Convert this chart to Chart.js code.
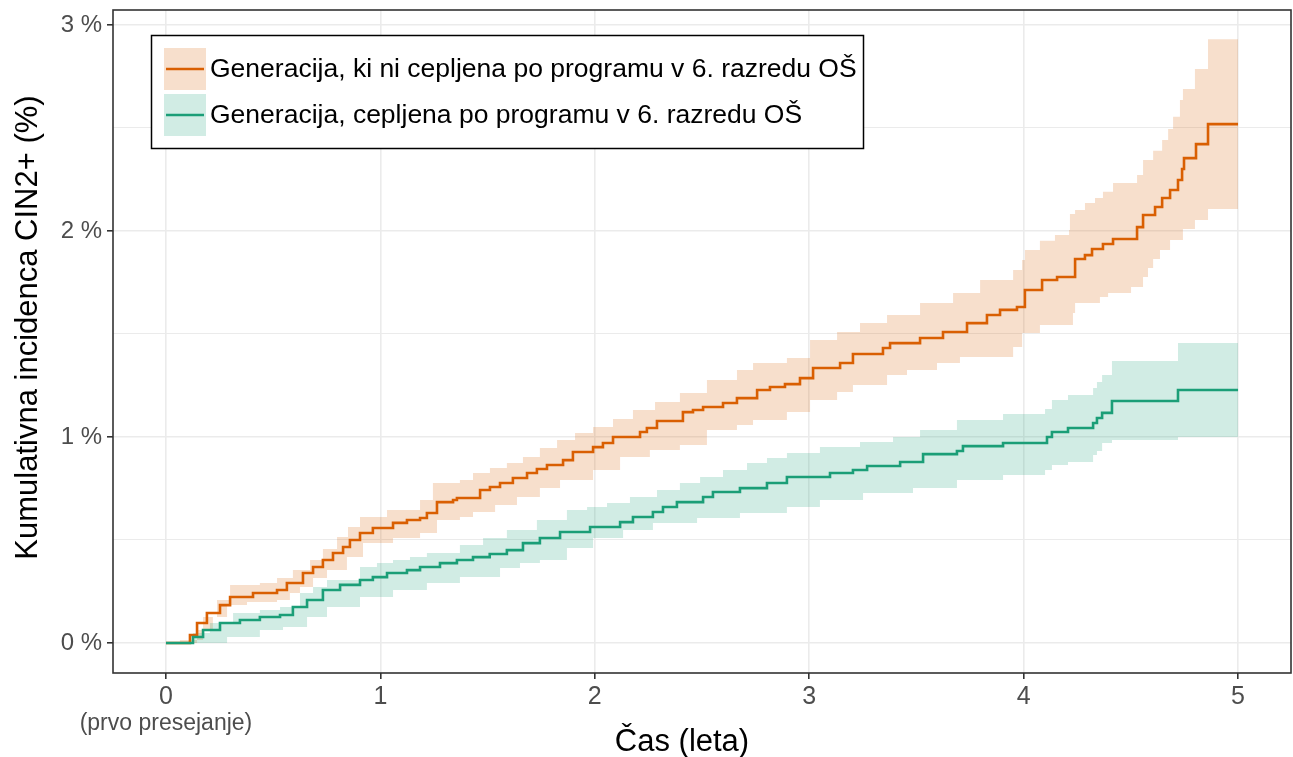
<!DOCTYPE html>
<html>
<head>
<meta charset="utf-8">
<script src="https://cdn.jsdelivr.net/npm/chart.js@4.4.1/dist/chart.umd.min.js"></script>
<style>
  html, body { margin: 0; padding: 0; background: #fff; }
  #wrap { width: 1293px; height: 757px; }
</style>
</head>
<body>
<div id="wrap"><canvas id="c" width="1293" height="757"></canvas></div>
<script>
// [years since first screening, cumulative incidence %]
const seriesNames = [
  "Generacija, ki ni cepljena po programu v 6. razredu OŠ",
  "Generacija, cepljena po programu v 6. razredu OŠ"
];
const yearTicks = [0, 1, 2, 3, 4, 5];
const pctTicks = [0, 0.5, 1, 1.5, 2, 2.5, 3];

const unvacLine = [
  [0, 0], [0.065, 0], [0.112, 0.039], [0.145, 0.097], [0.191, 0.146], [0.252, 0.184],
  [0.299, 0.223], [0.406, 0.243], [0.518, 0.257], [0.564, 0.291], [0.639, 0.340],
  [0.686, 0.369], [0.732, 0.403], [0.779, 0.437], [0.826, 0.466], [0.858, 0.500],
  [0.905, 0.534], [0.965, 0.558], [1.059, 0.583], [1.124, 0.597],
  [1.185, 0.607], [1.217, 0.631], [1.264, 0.684], [1.339, 0.694], [1.357, 0.704],
  [1.465, 0.743], [1.511, 0.757], [1.558, 0.777], [1.618, 0.801], [1.684, 0.825],
  [1.730, 0.845], [1.777, 0.864], [1.852, 0.888],
  [1.898, 0.927], [1.992, 0.951], [2.038, 0.971], [2.085, 1.0], [2.211, 1.024],
  [2.243, 1.044], [2.290, 1.078],
  [2.411, 1.121], [2.458, 1.131], [2.505, 1.146], [2.598, 1.165], [2.663, 1.189], [2.757, 1.228],
  [2.817, 1.243], [2.887, 1.257], [2.957, 1.286], [3.018, 1.335], [3.144, 1.359], [3.204, 1.403],
  [3.344, 1.432], [3.377, 1.456], [3.517, 1.481], [3.624, 1.510], [3.736, 1.553],
  [3.829, 1.592], [3.890, 1.617], [3.969, 1.631], [4.006, 1.714], [4.086, 1.762],
  [4.156, 1.777], [4.240, 1.864], [4.286, 1.883], [4.319, 1.913], [4.370, 1.937],
  [4.417, 1.961], [4.529, 2.019], [4.557, 2.078], [4.613, 2.117], [4.646, 2.160],
  [4.683, 2.199], [4.720, 2.248], [4.739, 2.301], [4.748, 2.354], [4.804, 2.422],
  [4.860, 2.519], [5.0, 2.519]
];
const unvacUpper = [
  [0, 0], [0.065, 0.015], [0.173, 0.126], [0.238, 0.209], [0.299, 0.282], [0.438, 0.291],
  [0.518, 0.316], [0.592, 0.354], [0.672, 0.403], [0.732, 0.456], [0.798, 0.515],
  [0.849, 0.563], [0.905, 0.612], [1.031, 0.646],
  [1.185, 0.694], [1.245, 0.777], [1.371, 0.791], [1.432, 0.825], [1.511, 0.850],
  [1.590, 0.874], [1.665, 0.903], [1.744, 0.947],
  [1.824, 0.985], [1.908, 1.019], [1.992, 1.049], [2.085, 1.087], [2.178, 1.131],
  [2.281, 1.170], [2.397, 1.214], [2.523, 1.277],
  [2.663, 1.325], [2.738, 1.359], [2.896, 1.383], [3.004, 1.471], [3.130, 1.510],
  [3.237, 1.553], [3.363, 1.592], [3.517, 1.650], [3.671, 1.699], [3.797, 1.762],
  [3.951, 1.811], [3.993, 1.859], [4.006, 1.908], [4.076, 1.953], [4.146, 1.981],
  [4.212, 2.005], [4.216, 2.083], [4.240, 2.102], [4.286, 2.136], [4.333, 2.160],
  [4.370, 2.191], [4.417, 2.233], [4.529, 2.272], [4.557, 2.345], [4.604, 2.390],
  [4.646, 2.442], [4.674, 2.495], [4.697, 2.555], [4.729, 2.636], [4.743, 2.689],
  [4.799, 2.786], [4.860, 2.931], [5.0, 2.931]
];
const unvacLower = [
  [0, 0], [0.065, 0], [0.145, 0.063], [0.219, 0.126], [0.285, 0.184], [0.378, 0.199],
  [0.518, 0.209], [0.578, 0.243], [0.625, 0.272], [0.686, 0.316], [0.751, 0.354],
  [0.844, 0.417], [0.919, 0.485],
  [1.059, 0.510], [1.185, 0.534], [1.264, 0.597], [1.371, 0.612], [1.432, 0.636],
  [1.535, 0.670], [1.637, 0.709], [1.744, 0.752], [1.838, 0.791], [1.992, 0.840],
  [2.118, 0.903], [2.257, 0.937], [2.397, 0.961],
  [2.523, 1.034], [2.663, 1.058], [2.738, 1.083], [2.896, 1.121], [3.004, 1.180],
  [3.130, 1.218], [3.204, 1.252], [3.363, 1.301], [3.456, 1.325], [3.596, 1.359],
  [3.703, 1.388], [3.951, 1.437], [3.993, 1.505], [4.076, 1.544], [4.230, 1.602],
  [4.240, 1.650], [4.356, 1.680], [4.394, 1.699], [4.501, 1.728], [4.557, 1.777],
  [4.580, 1.820], [4.604, 1.864], [4.636, 1.908], [4.683, 1.956], [4.743, 2.010],
  [4.799, 2.053], [4.860, 2.107], [5.0, 2.107]
];

const vacLine = [
  [0, 0], [0.065, 0], [0.126, 0.029], [0.173, 0.063], [0.252, 0.097], [0.345, 0.112],
  [0.438, 0.126], [0.532, 0.136], [0.592, 0.175], [0.658, 0.209], [0.732, 0.257],
  [0.812, 0.282], [0.905, 0.306], [0.965, 0.320], [1.031, 0.340], [1.124, 0.354],
  [1.185, 0.369], [1.278, 0.388], [1.357, 0.403], [1.432, 0.417], [1.510, 0.432],
  [1.590, 0.451], [1.665, 0.485], [1.744, 0.510], [1.838, 0.539], [1.978, 0.563],
  [2.118, 0.587], [2.178, 0.612], [2.271, 0.636], [2.318, 0.660], [2.383, 0.684],
  [2.505, 0.709], [2.551, 0.733], [2.677, 0.752], [2.803, 0.777], [2.896, 0.806],
  [3.097, 0.825], [3.204, 0.840], [3.270, 0.859], [3.424, 0.879], [3.531, 0.917],
  [3.689, 0.932], [3.717, 0.956], [3.904, 0.971], [4.109, 1.0], [4.132, 1.024],
  [4.207, 1.044], [4.324, 1.068], [4.342, 1.092], [4.366, 1.117], [4.412, 1.175],
  [4.720, 1.228], [5.0, 1.228]
];
const vacUpper = [
  [0, 0], [0.065, 0], [0.126, 0.049], [0.205, 0.097], [0.313, 0.146], [0.438, 0.160],
  [0.532, 0.175], [0.625, 0.243], [0.686, 0.272], [0.751, 0.306], [0.905, 0.369],
  [0.984, 0.388], [1.059, 0.403], [1.138, 0.417],
  [1.217, 0.437], [1.371, 0.476], [1.479, 0.510], [1.590, 0.549], [1.730, 0.597],
  [1.870, 0.646], [1.964, 0.660], [2.057, 0.680], [2.164, 0.709],
  [2.290, 0.743], [2.397, 0.777], [2.491, 0.806], [2.598, 0.840], [2.710, 0.874],
  [2.803, 0.898], [2.896, 0.922], [3.050, 0.951],
  [3.237, 0.976], [3.391, 1.0], [3.517, 1.034], [3.689, 1.083], [3.904, 1.112],
  [4.100, 1.136], [4.132, 1.180], [4.207, 1.204], [4.324, 1.238], [4.342, 1.267],
  [4.366, 1.301], [4.412, 1.369], [4.720, 1.456], [5.0, 1.456]
];
const vacLower = [
  [0, 0], [0.065, 0], [0.285, 0.029], [0.438, 0.063], [0.546, 0.078], [0.658, 0.126],
  [0.751, 0.175], [0.905, 0.223], [1.059, 0.257], [1.217, 0.291], [1.371, 0.320],
  [1.558, 0.364], [1.651, 0.388], [1.744, 0.403], [1.870, 0.461], [1.992, 0.510],
  [2.132, 0.549], [2.271, 0.583], [2.477, 0.607], [2.677, 0.631],
  [2.896, 0.660], [3.050, 0.694], [3.251, 0.728], [3.484, 0.752], [3.689, 0.791],
  [3.904, 0.816], [4.100, 0.840], [4.132, 0.864], [4.207, 0.879], [4.324, 0.913],
  [4.342, 0.932], [4.366, 0.971], [4.412, 0.985], [4.720, 1.0], [5.0, 1.0]
];

const orange = "#d95f02";
const green = "#1b9e77";
const orangeBand = "rgba(217,95,2,0.2)";
const greenBand = "rgba(27,158,119,0.2)";
const FONT = "'Liberation Sans', Arial, Helvetica, sans-serif";

const pts = arr => arr.map(p => ({ x: p[0], y: p[1] }));

const lineDs = (data, color) => ({
  data: pts(data), borderColor: color, borderWidth: 2.6, stepped: true,
  pointRadius: 0, fill: false, borderCapStyle: "butt", borderJoinStyle: "miter"
});
const bandDs = (data, color, fill) => ({
  data: pts(data), borderColor: "rgba(0,0,0,0)", borderWidth: 1, stepped: true,
  pointRadius: 0, backgroundColor: color, fill: fill
});

// frame, axis titles, note under 0 and the legend box
const extras = {
  id: "extras",
  afterDraw(chart) {
    const ctx = chart.ctx;
    const a = chart.chartArea;
    ctx.save();
    ctx.strokeStyle = "#333333";
    ctx.lineWidth = 1.6;
    ctx.strokeRect(a.left, a.top, a.right - a.left, a.bottom - a.top);

    ctx.fillStyle = "#000";
    ctx.font = "31px " + FONT;
    ctx.textAlign = "center";
    ctx.textBaseline = "middle";
    ctx.fillText("Čas (leta)", (a.left + a.right) / 2 - 20, 742);
    ctx.save();
    ctx.translate(28, (a.top + a.bottom) / 2 - 14);
    ctx.rotate(-Math.PI / 2);
    ctx.fillText("Kumulativna incidenca CIN2+ (%)", 0, 0);
    ctx.restore();

    ctx.fillStyle = "#4d4d4d";
    ctx.font = "23px " + FONT;
    ctx.fillText("(prvo presejanje)", chart.scales.x.getPixelForValue(0), 724);

    // legend
    ctx.fillStyle = "#fff";
    ctx.fillRect(151, 35, 713, 114);
    ctx.strokeStyle = "#000";
    ctx.lineWidth = 1.5;
    ctx.strokeRect(151.5, 35.5, 712, 113);
    const keys = [[orangeBand, orange, 48], [greenBand, green, 94]];
    keys.forEach((k, i) => {
      ctx.fillStyle = k[0];
      ctx.fillRect(164, k[2], 42, 42);
      ctx.strokeStyle = k[1];
      ctx.lineWidth = 2.6;
      ctx.beginPath();
      ctx.moveTo(166, k[2] + 21);
      ctx.lineTo(204, k[2] + 21);
      ctx.stroke();
      ctx.fillStyle = "#000";
      ctx.font = "26.5px " + FONT;
      ctx.textAlign = "left";
      ctx.fillText(seriesNames[i], 210, k[2] + 22);
    });
    ctx.restore();
  }
};

new Chart(document.getElementById("c"), {
  type: "line",
  data: {
    datasets: [
      lineDs(vacLine, green),
      lineDs(unvacLine, orange),
      bandDs(vacUpper, greenBand, "+1"),
      bandDs(vacLower, greenBand, false),
      bandDs(unvacUpper, orangeBand, "+1"),
      bandDs(unvacLower, orangeBand, false)
    ]
  },
  options: {
    responsive: false,
    animation: false,
    events: [],
    layout: { padding: { top: 10, right: 2, left: 0, bottom: 0 } },
    plugins: { legend: { display: false }, tooltip: { enabled: false } },
    scales: {
      x: {
        type: "linear", min: -0.247, max: 5.247,
        afterBuildTicks: s => { s.ticks = yearTicks.map(v => ({ value: v })); },
        afterFit: s => { s.height = 84; s.paddingLeft = 0; s.paddingRight = 0; },
        ticks: { autoSkip: false, maxRotation: 0, color: "#4d4d4d", padding: 3,
                 font: { family: FONT, size: 25 } },
        grid: { color: "#ebebeb", lineWidth: 1.6, tickColor: "#333333", tickLength: 6, tickWidth: 1.6 },
        border: { display: false }
      },
      y: {
        type: "linear", min: -0.1456, max: 3.073,
        afterBuildTicks: s => { s.ticks = pctTicks.map(v => ({ value: v })); },
        afterFit: s => { s.width = 113; s.paddingTop = 0; s.paddingBottom = 0; },
        ticks: { autoSkip: false, color: "#4d4d4d", padding: 5,
                 font: { family: FONT, size: 24 },
                 callback: v => Number.isInteger(v) ? v + " %" : "" },
        grid: {
          color: "#ebebeb",
          lineWidth: c => (c.tick && Number.isInteger(c.tick.value)) ? 1.6 : 1.1,
          tickColor: c => (c.tick && Number.isInteger(c.tick.value)) ? "#333333" : "rgba(0,0,0,0)",
          tickLength: 6, tickWidth: 1.6
        },
        border: { display: false }
      }
    }
  },
  plugins: [extras]
});
</script>
</body>
</html>
